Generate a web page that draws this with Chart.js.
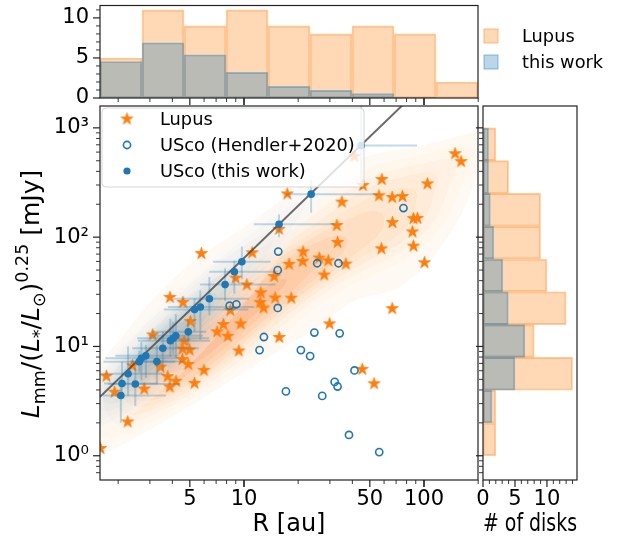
<!DOCTYPE html>
<html>
<head>
<meta charset="utf-8">
<title>Lupus vs USco</title>
<script src="https://cdn.jsdelivr.net/npm/chart.js@4.4.1/dist/chart.umd.min.js"></script>
<style>
  html, body { margin: 0; padding: 0; background: #fff; }
  #fig { position: relative; width: 623px; height: 549px; }
  #fig canvas { position: absolute; left: 0; top: 0; }
</style>
</head>
<body>
<div id="fig">
  <canvas id="mainChart" width="623" height="549"></canvas>
  <canvas id="topHist" width="623" height="549"></canvas>
  <canvas id="sideHist" width="623" height="549"></canvas>
</div>
<script>
// ---- values ----
const lupusR = [148.9, 160.7, 41.0, 45.8, 58.3, 104.5, 17.4, 35.0, 56.2, 66.6,
  75.9, 87.4, 91.9, 66.8, 32.8, 86.3, 33.1, 87.4, 58.0, 21.3,
  26.2, 29.4, 21.2, 17.8, 36.8, 27.9, 100.6, 15.65, 5.80, 11.1,
  14.7, 8.99, 10.37, 12.4, 3.88, 4.58, 14.9, 12.3, 12.85, 18.3,
  8.40, 5.04, 7.68, 9.60, 7.09, 8.13, 3.11, 15.7, 4.65, 4.56,
  4.99, 9.36, 4.55, 4.90, 2.40, 3.44, 5.99, 3.77, 1.72, 4.19,
  5.31, 3.87, 2.79, 1.91, 2.26, 1.595, 66.6, 29.9, 45.4, 52.8];
const lupusL = [580, 491, 548, 297, 337, 307.6, 248.6, 209.4, 239.4, 231,
  235.8, 147.9, 148.9, 136, 127.8, 111.7, 89.5, 82.8, 78.3, 73.5,
  64.4, 60.9, 60.1, 56.5, 56.8, 45.1, 58.4, 118.2, 70.8, 72.0,
  43.6, 42.2, 36.6, 31.0, 28.1, 25.3, 27.8, 25.3, 22.5, 27.7,
  21.4, 16.9, 15.9, 16.1, 13.6, 12.4, 12.75, 12.1, 11.2, 9.49,
  9.29, 9.10, 7.59, 6.86, 6.65, 6.47, 6.05, 5.30, 5.34, 4.81,
  4.61, 4.26, 4.08, 3.82, 2.04, 1.165, 22.2, 16.1, 6.18, 4.56];

const hendlerR = [15.5, 15.4, 76.9, 25.5, 33.5, 8.32, 9.07, 15.4, 12.9, 12.2, 17.1,
  24.6, 34.0, 20.7, 23.3, 41.1, 31.9, 33.1, 27.2, 38.3, 56.4];
const hendlerL = [73.8, 49.9, 184.6, 57.7, 57.7, 23.6, 24.3, 22.5, 12.2, 9.26, 3.88,
  13.4, 13.2, 9.26, 8.16, 6.03, 4.74, 4.30, 3.53, 1.55, 1.08];

const uscoR = [44.8, 15.65, 23.6, 9.73, 8.84, 7.85, 6.42, 5.72, 5.31, 4.90, 4.18,
  4.04, 3.90, 3.54, 2.85, 2.69, 2.62, 3.28, 2.27, 2.10, 2.49, 2.07];
const uscoL = [690, 131.3, 247.5, 59.6, 48.3, 36.8, 27.3, 22.96, 21.8, 13.6, 12.5,
  11.9, 11.3, 9.63, 8.20, 7.78, 7.26, 7.27, 5.62, 4.58, 4.54, 3.56];
// errors in dex (lower / upper)
const uscoRErrLo = [0.06, 0.14, 0.14, 0.16, 0.14, 0.14, 0.20, 0.18, 0.17, 0.20, 0.15,
  0.20, 0.18, 0.17, 0.17, 0.20, 0.20, 0.15, 0.15, 0.10, 0.15, 0.10];
const uscoRErrHi = [0.31, 0.31, 0.37, 0.16, 0.24, 0.28, 0.22, 0.30, 0.30, 0.10, 0.15,
  0.20, 0.22, 0.20, 0.18, 0.20, 0.20, 0.15, 0.20, 0.20, 0.25, 0.25];
const uscoLErrLo = [0.40, 0.12, 0.17, 0.16, 0.20, 0.15, 0.15, 0.30, 0.20, 0.12, 0.20,
  0.15, 0.15, 0.20, 0.20, 0.20, 0.10, 0.20, 0.20, 0.12, 0.20, 0.25];
const uscoLErrHi = [0.50, 0.09, 0.13, 0.14, 0.10, 0.15, 0.20, 0.15, 0.10, 0.12, 0.20,
  0.15, 0.20, 0.15, 0.10, 0.15, 0.10, 0.15, 0.25, 0.20, 0.15, 0.15];

// log L = fitIntercept + fitSlope * log R
const fitSlope = 1.588;
const fitIntercept = 0.221;

// histograms
const rBinEdges = [1.585, 2.713, 4.642, 7.943, 13.59, 23.26, 39.81, 68.13, 116.6, 199.5];
const lupusRCounts = [5, 11, 9, 11, 9, 8, 9, 8, 2];
const uscoRCounts = [4.55, 6.9, 5.4, 3.2, 1.45, 0.95, 0.55, 0.1, 0];
const lBinEdges = [1, 1.995, 3.981, 7.943, 15.85, 31.62, 63.10, 125.9, 251.2, 501.2, 1000];
const lupusLCounts = [2, 2, 14, 8, 13, 10, 9, 9, 4, 2];
const uscoLCounts = [0, 1.4, 5.0, 6.55, 3.95, 3.1, 1.7, 1.15, 0.87, 0.87];

// axes
const xMin = Math.pow(10, 0.2), xMax = Math.pow(10, 2.3);
const yMin = Math.pow(10, -0.2), yMax = Math.pow(10, 3.2);
const xTicks = [5, 10, 50, 100];
const xMinorTicks = [2, 3, 4, 6, 7, 8, 9, 20, 30, 40, 60, 70, 80, 90, 200];
const yTicks = [1, 10, 100, 1000];
const yMinorTicks = [0.7, 0.8, 0.9, 2, 3, 4, 5, 6, 7, 8, 9, 20, 30, 40, 50, 60, 70, 80, 90,
  200, 300, 400, 500, 600, 700, 800, 900];
const countTicks = [0, 5, 10];
const countMinorTopTicks = [1, 2, 3, 4, 6, 7, 8, 9, 11];
const countMinorSideTicks = [1, 2, 3, 4, 6, 7, 8, 9, 11, 12, 13, 14];
const topCountMax = 11.55;
const sideCountMax = 14.7;

const ORANGE = '#ff7f0e';
const BLUE = '#1f77b4';
const INK = '#222';
const kdeLevels = 10, kdeThresh = 0.15;
const orangeMap = ['#fff5eb', '#fee6ce', '#fdd0a2', '#fdae6b', '#fd8d3c', '#f16913'];
const blueMap = ['#f7fbff', '#deebf7', '#c6dbef', '#9ecae1', '#6baed6', '#4292c6', '#2171b5'];

Chart.defaults.font.family = 'DejaVu Sans';
Chart.defaults.font.size = 21;
Chart.defaults.color = '#000';

const pts = (xs, ys) => xs.map((x, i) => ({ x: x, y: ys[i] }));
const geo = (edges) => edges.slice(0, -1).map((e, i) => Math.sqrt(e * edges[i + 1]));
const rCenters = geo(rBinEdges);
const lCenters = geo(lBinEdges);
const supDigits = { '0': '\u2070', '1': '\u00b9', '2': '\u00b2', '3': '\u00b3', '-': '\u207b' };
const noPad = s => { s.paddingTop = 0; s.paddingBottom = 0; s.paddingLeft = 0; s.paddingRight = 0; };

function makeStar(r, color) {
  const size = Math.ceil(r * 2 + 4);
  const c = document.createElement('canvas');
  c.width = c.height = size;
  const g = c.getContext('2d');
  g.translate(size / 2, size / 2);
  g.beginPath();
  for (let k = 0; k < 10; k++) {
    const ang = -Math.PI / 2 + k * Math.PI / 5;
    const rad = k % 2 ? r * 0.382 : r;
    g.lineTo(Math.cos(ang) * rad, Math.sin(ang) * rad);
  }
  g.closePath();
  g.fillStyle = color;
  g.fill();
  g.lineWidth = 0.8;
  g.strokeStyle = color;
  g.stroke();
  return c;
}
const starImg = makeStar(6.3, ORANGE);

function hexRgb(h) {
  return [parseInt(h.slice(1, 3), 16), parseInt(h.slice(3, 5), 16), parseInt(h.slice(5, 7), 16)];
}
function cmapAt(map, t) {
  t = Math.max(0, Math.min(1, t)) * (map.length - 1);
  const i = Math.min(map.length - 2, Math.floor(t)), f = t - i;
  const a = hexRgb(map[i]), b = hexRgb(map[i + 1]);
  return a.map((v, k) => Math.round(v + (b[k] - v) * f));
}

// gaussian kde in log space (scott bandwidth, optional isotropic smoothing), iso-proportion levels
function buildKde(xs, ys, bwAdjust, extra) {
  const X = xs.map(Math.log10), Y = ys.map(Math.log10), n = X.length;
  const mx = X.reduce((a, b) => a + b, 0) / n, my = Y.reduce((a, b) => a + b, 0) / n;
  let sxx = 0, syy = 0, sxy = 0;
  for (let i = 0; i < n; i++) {
    const dx = X[i] - mx, dy = Y[i] - my;
    sxx += dx * dx; syy += dy * dy; sxy += dx * dy;
  }
  const f2 = Math.pow(n, -1 / 3) * bwAdjust * bwAdjust;
  const cxx = sxx / (n - 1) * f2 + extra * extra, cyy = syy / (n - 1) * f2 + extra * extra;
  const cxy = sxy / (n - 1) * f2;
  const det = cxx * cyy - cxy * cxy;
  const A = cyy / det, B = -cxy / det, C = cxx / det;
  const dens = (lx, ly) => {
    let s = 0;
    for (let i = 0; i < n; i++) {
      const dx = lx - X[i], dy = ly - Y[i];
      s += Math.exp(-0.5 * (A * dx * dx + 2 * B * dx * dy + C * dy * dy));
    }
    return s;
  };
  const bx = Math.sqrt(cxx), by = Math.sqrt(cyy);
  const x0 = Math.min(...X) - 3 * bx, x1 = Math.max(...X) + 3 * bx;
  const y0 = Math.min(...Y) - 3 * by, y1 = Math.max(...Y) + 3 * by;
  const G = 150, vals = [];
  for (let i = 0; i < G; i++)
    for (let j = 0; j < G; j++)
      vals.push(dens(x0 + (x1 - x0) * i / (G - 1), y0 + (y1 - y0) * j / (G - 1)));
  const sorted = vals.sort((a, b) => b - a);
  const total = sorted.reduce((a, b) => a + b, 0);
  const cum = [];
  let acc = 0;
  for (const v of sorted) { acc += v; cum.push(acc / total); }
  const levels = [];
  for (let k = 0; k < kdeLevels; k++) {
    const q = kdeThresh + (1 - kdeThresh) * k / (kdeLevels - 1);
    let idx = cum.findIndex(c => c >= 1 - q);
    if (idx < 0) idx = sorted.length - 1;
    levels.push(sorted[idx]);
  }
  return { dens, levels };
}

function paintKde(chart, kde, map, alpha) {
  const a = chart.chartArea, sx = chart.scales.x, sy = chart.scales.y;
  const W = Math.round(a.right - a.left), H = Math.round(a.bottom - a.top);
  const cols = new Float64Array(W), rows = new Float64Array(H);
  for (let i = 0; i < W; i++) cols[i] = Math.log10(sx.getValueForPixel(a.left + i + 0.5));
  for (let j = 0; j < H; j++) rows[j] = Math.log10(sy.getValueForPixel(a.top + j + 0.5));
  const lv = kde.levels, nb = lv.length - 1;
  const colors = [];
  for (let b = 0; b < nb; b++) {
    const mid = (lv[b] + lv[b + 1]) / 2;
    colors.push(cmapAt(map, (mid - lv[0]) / (lv[nb] - lv[0])));
  }
  const off = document.createElement('canvas');
  off.width = W; off.height = H;
  const octx = off.getContext('2d');
  const img = octx.createImageData(W, H), d = img.data;
  const al = Math.round(alpha * 255);
  for (let j = 0; j < H; j++) {
    for (let i = 0; i < W; i++) {
      const v = kde.dens(cols[i], rows[j]);
      if (v < lv[0]) continue;
      let b = 0;
      while (b < nb - 1 && v >= lv[b + 1]) b++;
      const c = colors[b], p = (j * W + i) * 4;
      d[p] = c[0]; d[p + 1] = c[1]; d[p + 2] = c[2]; d[p + 3] = al;
    }
  }
  octx.putImageData(img, 0, 0);
  return off;
}

const kdeLayer = {
  id: 'kdeLayer',
  beforeDatasetsDraw(chart) {
    const a = chart.chartArea;
    if (!chart.$kdeImgs) {
      chart.$kdeImgs = [
        paintKde(chart, buildKde(lupusR, lupusL, 0.85, 0), orangeMap, 0.45),
        paintKde(chart, buildKde(uscoR, uscoL, 0.85, 0.1), blueMap, 0.3)
      ];
    }
    chart.$kdeImgs.forEach(im => chart.ctx.drawImage(im, Math.round(a.left), Math.round(a.top)));
  }
};

const errorBars = {
  id: 'errorBars',
  beforeDatasetDraw(chart, args) {
    if (args.index !== 1) return;
    const ctx = chart.ctx, a = chart.chartArea, sx = chart.scales.x, sy = chart.scales.y;
    ctx.save();
    ctx.beginPath();
    ctx.rect(a.left, a.top, a.right - a.left, a.bottom - a.top);
    ctx.clip();
    ctx.strokeStyle = 'rgba(31,119,180,0.28)';
    ctx.lineWidth = 2;
    uscoR.forEach((r, i) => {
      const l = uscoL[i];
      const px = sx.getPixelForValue(r), py = sy.getPixelForValue(l);
      ctx.beginPath();
      ctx.moveTo(sx.getPixelForValue(r / Math.pow(10, uscoRErrLo[i])), py);
      ctx.lineTo(sx.getPixelForValue(r * Math.pow(10, uscoRErrHi[i])), py);
      ctx.moveTo(px, sy.getPixelForValue(l / Math.pow(10, uscoLErrLo[i])));
      ctx.lineTo(px, sy.getPixelForValue(l * Math.pow(10, uscoLErrHi[i])));
      ctx.stroke();
    });
    ctx.restore();
  }
};

// frame + outward tick marks (major / minor)
const frameTicks = {
  id: 'frameTicks',
  afterDraw(chart, args, opts) {
    const ctx = chart.ctx, a = chart.chartArea;
    ctx.save();
    ctx.strokeStyle = INK;
    (opts.sets || []).forEach(t => {
      const s = chart.scales[t.scale];
      ctx.lineWidth = t.width;
      t.values.forEach(v => {
        const p = s.getPixelForValue(v);
        ctx.beginPath();
        if (t.side === 'bottom') {
          if (p < a.left - 0.5 || p > a.right + 0.5) return;
          ctx.moveTo(p, a.bottom); ctx.lineTo(p, a.bottom + t.len);
        } else {
          if (p < a.top - 0.5 || p > a.bottom + 0.5) return;
          ctx.moveTo(a.left, p); ctx.lineTo(a.left - t.len, p);
        }
        ctx.stroke();
      });
    });
    ctx.lineWidth = 1.2;
    ctx.strokeRect(a.left, a.top, a.right - a.left, a.bottom - a.top);
    ctx.restore();
  }
};

const yLabel = {
  id: 'yLabel',
  afterDraw(chart) {
    const ctx = chart.ctx, fs = 25;
    const parts = [
      { t: 'L', it: true, s: 1, dy: 0 }, { t: 'mm', s: 0.7, dy: 0.22 },
      { t: '/(', s: 1, dy: 0 }, { t: 'L', it: true, s: 1, dy: 0 }, { t: '*', s: 0.7, dy: 0.22 },
      { t: '/', s: 1, dy: 0 }, { t: 'L', it: true, s: 1, dy: 0 }, { t: '\u2299', s: 0.7, dy: 0.22 },
      { t: ')', s: 1, dy: 0 }, { t: '0.25', s: 0.7, dy: -0.45 }, { t: ' [mJy]', s: 1, dy: 0 }
    ];
    ctx.save();
    const fontOf = p => (p.it ? 'italic ' : '') + (fs * p.s) + 'px "DejaVu Sans"';
    let total = 0;
    parts.forEach(p => { ctx.font = fontOf(p); p.w = ctx.measureText(p.t).width; total += p.w; });
    ctx.translate(39, 294);
    ctx.rotate(-Math.PI / 2);
    ctx.fillStyle = '#000';
    ctx.textBaseline = 'alphabetic';
    let x = -total / 2;
    parts.forEach(p => { ctx.font = fontOf(p); ctx.fillText(p.t, x, p.dy * fs); x += p.w; });
    ctx.restore();
  }
};

const mainLegend = {
  id: 'mainLegend',
  afterDraw(chart) {
    const ctx = chart.ctx, a = chart.chartArea;
    const x0 = a.left + 2, y0 = a.top + 2, w = 262, h = 79, r = 4;
    ctx.save();
    ctx.beginPath();
    ctx.moveTo(x0 + r, y0);
    ctx.arcTo(x0 + w, y0, x0 + w, y0 + h, r);
    ctx.arcTo(x0 + w, y0 + h, x0, y0 + h, r);
    ctx.arcTo(x0, y0 + h, x0, y0, r);
    ctx.arcTo(x0, y0, x0 + w, y0, r);
    ctx.closePath();
    ctx.fillStyle = 'rgba(255,255,255,0.8)';
    ctx.fill();
    ctx.strokeStyle = 'rgba(204,204,204,0.8)';
    ctx.lineWidth = 1;
    ctx.stroke();
    const rows = [
      { label: 'Lupus', kind: 'star' },
      { label: 'USco (Hendler+2020)', kind: 'open' },
      { label: 'USco (this work)', kind: 'filled' }
    ];
    ctx.font = '17.8px "DejaVu Sans"';
    ctx.textBaseline = 'middle';
    ctx.fillStyle = '#000';
    rows.forEach((row, i) => {
      const cy = y0 + 11 + i * 26, mx = x0 + 25;
      if (row.kind === 'star') {
        ctx.drawImage(starImg, mx - starImg.width / 2, cy - starImg.height / 2);
      } else {
        ctx.beginPath();
        ctx.arc(mx, cy, 3.6, 0, Math.PI * 2);
        if (row.kind === 'open') { ctx.strokeStyle = BLUE; ctx.lineWidth = 1.6; ctx.stroke(); }
        else { ctx.fillStyle = BLUE; ctx.fill(); }
      }
      ctx.fillStyle = '#000';
      ctx.fillText(row.label, x0 + 58, cy + 1);
    });
    ctx.restore();
  }
};

const histLegend = {
  id: 'histLegend',
  afterDraw(chart) {
    const ctx = chart.ctx;
    const rows = [
      { label: 'Lupus', fill: 'rgba(255,127,14,0.3)', edge: 'rgba(255,127,14,0.4)' },
      { label: 'this work', fill: 'rgba(31,119,180,0.3)', edge: 'rgba(31,119,180,0.4)' }
    ];
    ctx.save();
    ctx.font = '17.8px "DejaVu Sans"';
    ctx.textBaseline = 'middle';
    rows.forEach((row, i) => {
      const cy = 36 + i * 26;
      ctx.fillStyle = row.fill;
      ctx.fillRect(484, cy - 7, 14, 14);
      ctx.strokeStyle = row.edge;
      ctx.lineWidth = 1.2;
      ctx.strokeRect(484, cy - 7, 14, 14);
      ctx.fillStyle = '#000';
      ctx.fillText(row.label, 522, cy + 1);
    });
    ctx.restore();
  }
};

const logXTicks = [
  { scale: 'x', side: 'bottom', values: xTicks.concat([10, 100]), len: 7, width: 1.2 },
  { scale: 'x', side: 'bottom', values: xMinorTicks, len: 4, width: 0.9 }
];
const logYTicks = [
  { scale: 'y', side: 'left', values: yTicks, len: 7, width: 1.2 },
  { scale: 'y', side: 'left', values: yMinorTicks, len: 4, width: 0.9 }
];
const commonOpts = {
  responsive: false,
  animation: false,
  devicePixelRatio: 1,
  events: []
};

// ---- main scatter panel ----
new Chart(document.getElementById('mainChart'), {
  type: 'scatter',
  data: {
    datasets: [
      { label: 'USco (this work)', data: pts(uscoR, uscoL), pointStyle: 'circle', pointRadius: 3.8,
        pointBackgroundColor: BLUE, pointBorderWidth: 0, order: 0 },
      { label: 'fit', type: 'line',
        data: [xMin, xMax].map(r => ({ x: r, y: Math.pow(10, fitIntercept + fitSlope * Math.log10(r)) })),
        borderColor: 'rgba(70,70,70,0.8)', borderWidth: 2, pointRadius: 0, fill: false, order: 1 },
      { label: 'USco (Hendler+2020)', data: pts(hendlerR, hendlerL), pointStyle: 'circle', pointRadius: 3.6,
        pointBackgroundColor: 'rgba(0,0,0,0)', pointBorderColor: BLUE, pointBorderWidth: 1.6, order: 2 },
      { label: 'Lupus', data: pts(lupusR, lupusL), pointStyle: starImg, pointRadius: 6, order: 3 }
    ]
  },
  options: Object.assign({}, commonOpts, {
    layout: { padding: { left: 0, right: 145, top: 106, bottom: 0 } },
    plugins: {
      legend: { display: false },
      tooltip: { enabled: false },
      frameTicks: { sets: logXTicks.concat(logYTicks) }
    },
    scales: {
      x: {
        type: 'logarithmic', min: xMin, max: xMax,
        grid: { display: false, drawTicks: false }, border: { display: false },
        afterBuildTicks: s => { s.ticks = xTicks.map(v => ({ value: v })); },
        afterFit: s => { s.height = 69; noPad(s); },
        ticks: { autoSkip: false, maxRotation: 0, padding: 7, callback: v => String(v) },
        title: { display: true, text: 'R [au]', font: { size: 24 }, padding: { top: 0, bottom: 10 } }
      },
      y: {
        type: 'logarithmic', min: yMin, max: yMax,
        grid: { display: false, drawTicks: false }, border: { display: false },
        afterBuildTicks: s => { s.ticks = yTicks.map(v => ({ value: v })); },
        afterFit: s => { s.width = 100; noPad(s); },
        ticks: { autoSkip: false, padding: 11,
          callback: v => '10' + String(Math.round(Math.log10(v))).split('').map(c => supDigits[c]).join('') }
      }
    }
  }),
  plugins: [kdeLayer, errorBars, frameTicks, yLabel, mainLegend]
});

// ---- top histogram (R) ----
new Chart(document.getElementById('topHist'), {
  type: 'bar',
  data: {
    datasets: [
      { label: 'this work', data: rCenters.map((c, i) => ({ x: c, y: uscoRCounts[i] })),
        backgroundColor: 'rgba(31,119,180,0.3)', borderColor: 'rgba(31,119,180,0.4)', borderWidth: 1.2,
        borderSkipped: false, grouped: false, barPercentage: 1, categoryPercentage: 1, order: 0 },
      { label: 'Lupus', data: rCenters.map((c, i) => ({ x: c, y: lupusRCounts[i] })),
        backgroundColor: 'rgba(255,127,14,0.3)', borderColor: 'rgba(255,127,14,0.4)', borderWidth: 1.2,
        borderSkipped: false, grouped: false, barPercentage: 1, categoryPercentage: 1, order: 1 }
    ]
  },
  options: Object.assign({}, commonOpts, {
    layout: { padding: { left: 0, right: 145, top: 5.5, bottom: 451 } },
    plugins: {
      legend: { display: false },
      tooltip: { enabled: false },
      frameTicks: { sets: logXTicks.concat([
        { scale: 'y', side: 'left', values: countTicks, len: 7, width: 1.2 },
        { scale: 'y', side: 'left', values: countMinorTopTicks, len: 4, width: 0.9 }
      ]) }
    },
    scales: {
      x: {
        type: 'logarithmic', min: xMin, max: xMax, offset: false,
        grid: { display: false, drawTicks: false }, border: { display: false },
        afterBuildTicks: s => { s.ticks = rCenters.map(v => ({ value: v })); },
        afterFit: s => { s.height = 0; noPad(s); },
        ticks: { display: false }
      },
      y: {
        type: 'linear', min: 0, max: topCountMax,
        grid: { display: false, drawTicks: false }, border: { display: false },
        afterBuildTicks: s => { s.ticks = countTicks.map(v => ({ value: v })); },
        afterFit: s => { s.width = 100; noPad(s); },
        ticks: { padding: 11 }
      }
    }
  }),
  plugins: [frameTicks, histLegend]
});

// ---- side histogram (L) ----
new Chart(document.getElementById('sideHist'), {
  type: 'bar',
  data: {
    datasets: [
      { label: 'this work', data: lCenters.map((c, i) => ({ x: uscoLCounts[i], y: c })),
        backgroundColor: 'rgba(31,119,180,0.3)', borderColor: 'rgba(31,119,180,0.4)', borderWidth: 1.2,
        borderSkipped: false, grouped: false, barPercentage: 1, categoryPercentage: 1, order: 0 },
      { label: 'Lupus', data: lCenters.map((c, i) => ({ x: lupusLCounts[i], y: c })),
        backgroundColor: 'rgba(255,127,14,0.3)', borderColor: 'rgba(255,127,14,0.4)', borderWidth: 1.2,
        borderSkipped: false, grouped: false, barPercentage: 1, categoryPercentage: 1, order: 1 }
    ]
  },
  options: Object.assign({}, commonOpts, {
    indexAxis: 'y',
    layout: { padding: { left: 483, right: 46, top: 106, bottom: 0 } },
    plugins: {
      legend: { display: false },
      tooltip: { enabled: false },
      frameTicks: { sets: logYTicks.concat([
        { scale: 'x', side: 'bottom', values: countTicks, len: 7, width: 1.2 },
        { scale: 'x', side: 'bottom', values: countMinorSideTicks, len: 4, width: 0.9 }
      ]) }
    },
    scales: {
      y: {
        type: 'logarithmic', min: yMin, max: yMax, offset: false,
        grid: { display: false, drawTicks: false }, border: { display: false },
        afterBuildTicks: s => { s.ticks = lCenters.map(v => ({ value: v })); },
        afterFit: s => { s.width = 0; noPad(s); },
        ticks: { display: false }
      },
      x: {
        type: 'linear', min: 0, max: sideCountMax,
        grid: { display: false, drawTicks: false }, border: { display: false },
        afterBuildTicks: s => { s.ticks = countTicks.map(v => ({ value: v })); },
        afterFit: s => { s.height = 69; noPad(s); },
        ticks: { autoSkip: false, maxRotation: 0, padding: 7 },
        title: { display: true, text: '# of disks', font: { size: 24 }, padding: { top: 0, bottom: 10 } }
      }
    }
  }),
  plugins: [frameTicks]
});
</script>
</body>
</html>
